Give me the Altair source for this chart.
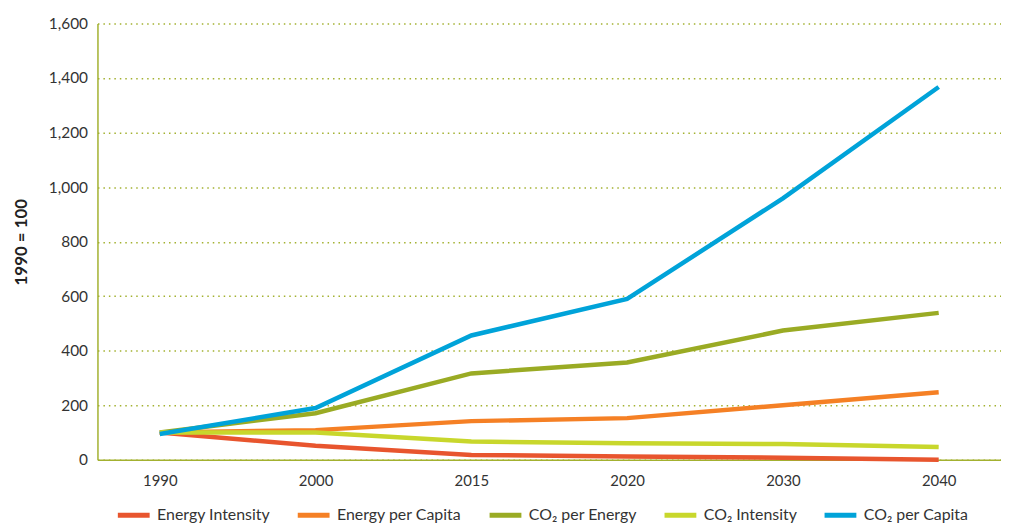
import altair as alt
import pandas as pd

years = ["1990", "2000", "2015", "2020", "2030", "2040"]
series_names = ["Energy Intensity", "Energy per Capita", "CO₂ per Energy", "CO₂ Intensity", "CO₂ per Capita"]
energy_intensity = [100, 52, 18, 12, 8, 0]
energy_per_capita = [100, 109, 142, 153, 200, 248]
co2_per_energy = [100, 171, 317, 357, 474, 539]
co2_intensity = [100, 100, 67, 61, 58, 47]
co2_per_capita = [95, 190, 456, 590, 959, 1367]
colors = ["#e8552e", "#f58025", "#9aab24", "#c8d72c", "#00a3d9"]

rows = []
for name, vals in zip(series_names, [energy_intensity, energy_per_capita, co2_per_energy, co2_intensity, co2_per_capita]):
    for y, v in zip(years, vals):
        rows.append({"year": y, "value": v, "series": name})
df = pd.DataFrame(rows)

FONT = "Lato"
chart = alt.Chart(df).mark_line(strokeWidth=4.5, strokeCap="butt").encode(
    x=alt.X("year:O", sort=years, scale=alt.Scale(type="point", padding=0.4),
            axis=alt.Axis(title=None, labelAngle=0, ticks=False, labelPadding=14,
                          labelFontSize=15, labelColor="#333333", domainColor="#a3b130",
                          domainWidth=1.5, grid=False)),
    y=alt.Y("value:Q", scale=alt.Scale(domain=[0, 1600], nice=False),
            axis=alt.Axis(title="1990 = 100", values=list(range(0, 1601, 200)), format=",d",
                          ticks=False, labelPadding=10, labelFontSize=15.5, labelColor="#333333",
                          titleFontSize=17, titleFontWeight="bold", titleColor="#222222",
                          titlePadding=18, domainColor="#a3b130", domainWidth=1.5,
                          grid=True, gridColor="#a3b130", gridDash=[1.5, 4], gridWidth=1.5)),
    color=alt.Color("series:N", sort=series_names,
                    scale=alt.Scale(domain=series_names, range=colors),
                    legend=alt.Legend(title=None, orient="none", direction="horizontal",
                                      legendX=18, legendY=476, symbolType="stroke",
                                      symbolSize=1024, symbolStrokeWidth=5,
                                      labelFontSize=16, labelColor="#333333", labelOffset=5,
                                      columnPadding=17)),
    order=alt.Order("year:O"),
).properties(
    width=909, height=439,
    autosize=alt.AutoSizeParams(type="none"),
    padding={"left": 90, "top": 14, "right": 0, "bottom": 70},
).configure(font=FONT).configure_view(stroke=None)

chart.save("out.html", embed_options={"renderer": "svg", "actions": False})
